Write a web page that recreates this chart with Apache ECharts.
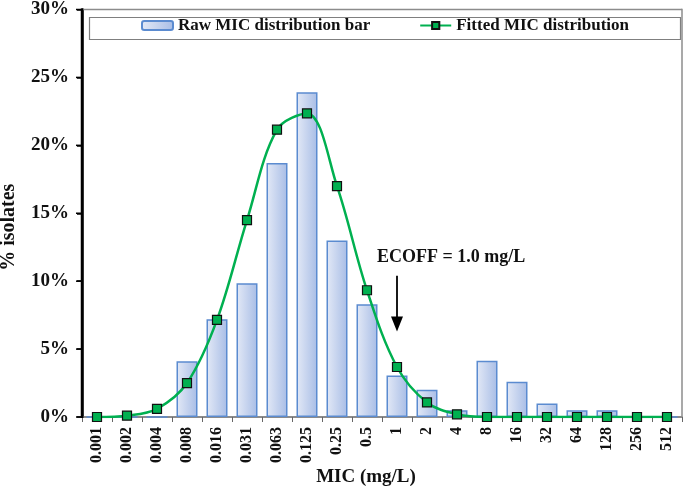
<!DOCTYPE html>
<html>
<head>
<meta charset="utf-8">
<script src="https://cdn.jsdelivr.net/npm/echarts@6/dist/echarts.min.js"></script>
<style>html,body{margin:0;padding:0;background:#fff}#c{width:685px;height:488px}</style>
</head>
<body>
<div id="c"></div>
<script>
const categories = ['0.001','0.002','0.004','0.008','0.016','0.031','0.063','0.125','0.25','0.5','1','2','4','8','16','32','64','128','256','512'];
const rawBar = [0,0,0,4.1,7.2,9.85,18.7,23.9,13.0,8.3,3.05,2.0,0.5,4.15,2.6,1.0,0.5,0.5,0,0];
const fitted = [0,0.1,0.6,2.5,7.15,14.5,21.15,22.35,17.0,9.33,3.68,1.07,0.2,0,0,0,0,0,0,0];
const yMin = 0, yMax = 30, yStep = 5;
const ecoffCategory = '1';
const ecoffLabel = 'ECOFF = 1.0 mg/L';
const arrowTop = 10.4, arrowBottom = 6.3;
const xName = 'MIC (mg/L)', yName = '% isolates';

const FONT = "'Liberation Serif','Times New Roman',serif";
const GL = 82, GR = 3, GT = 7, GB = 71, W = 685, H = 488;
const chart = echarts.init(document.getElementById('c'), null, {renderer:'canvas'});
chart.setOption({
  animation:false,
  grid:{left:GL,right:GR,top:GT,bottom:GB},
  legend:{
    top:17,left:141,
    padding:0,
    itemGap:49,itemWidth:31,itemHeight:9,
    textStyle:{fontFamily:FONT,fontWeight:'bold',fontSize:17,color:'#111'},
    data:['Raw MIC distribution bar','Fitted MIC distribution']
  },
  xAxis:{
    type:'category',data:categories,
    axisLine:{show:true,lineStyle:{color:'#666',width:1.5}},
    axisTick:{show:true,length:5,lineStyle:{color:'#666'}},
    axisLabel:{rotate:90,margin:10,fontFamily:FONT,fontWeight:'bold',fontSize:16,color:'#111'}
  },
  yAxis:{
    type:'value',min:yMin,max:yMax,interval:yStep,
    axisLine:{show:true,lineStyle:{color:'#000',width:2.5}},
    axisTick:{show:true,length:5,lineStyle:{color:'#000',width:1.5}},
    splitLine:{show:false},
    axisLabel:{formatter:'{value}%',margin:13,fontFamily:FONT,fontWeight:'bold',fontSize:19,color:'#111'}
  },
  series:[
    {
      name:'Raw MIC distribution bar',type:'bar',data:rawBar,barWidth:'70%',
      itemStyle:{
        color:new echarts.graphic.LinearGradient(0,0,1,0,[{offset:0,color:'#e3e9f6'},{offset:1,color:'#a8bde6'}]),
        borderColor:'#5b8bd0',borderWidth:1.5
      }
    },
    {
      name:'Fitted MIC distribution',type:'line',data:fitted,smooth:0.35,
      symbol:'rect',symbolSize:9,
      lineStyle:{color:'#00b050',width:2.5},
      itemStyle:{color:'#00b050',borderColor:'#111',borderWidth:1.2},
      z:5
    }
  ]
});
function px(cat, v) {
  const p = chart.convertToPixel({gridIndex:0},[cat, v]);
  return (p && isFinite(p[0]) && isFinite(p[1])) ? p : null;
}
const yPix = v => { const p = px(categories[0], v); return p ? p[1] : (H - GB) - (v - yMin) / (yMax - yMin) * (H - GB - GT); };
const gx0 = GL, gx1 = W - GR;
const gyB = yPix(yMin), gyT = yPix(yMax);
let pA = px(ecoffCategory, arrowTop);
const ax = pA ? pA[0] : gx0 + (categories.indexOf(ecoffCategory) + 0.5) * (gx1 - gx0) / categories.length;
const yA = yPix(arrowTop), yB = yPix(arrowBottom);
const g = [
  {type:'rect',shape:{x:gx0,y:gyT-0.75,width:gx1-gx0,height:1.5},style:{fill:'#8c8c8c'},z:30},
  {type:'rect',shape:{x:gx1-0.75,y:gyT-0.75,width:1.5,height:gyB-gyT+0.75},style:{fill:'#8c8c8c'},z:30},
  {type:'rect',shape:{x:gx0-1.25,y:gyT-1,width:2.5,height:gyB-gyT+2},style:{fill:'#000'},z:30},
  {type:'rect',left:87,top:15,shape:{width:591,height:22},style:{fill:'none',stroke:'#7f7f7f',lineWidth:1.2},z:-1},
  {type:'text',left:ax-20,top:yA-27,style:{text:ecoffLabel,font:"bold 18px "+FONT,fill:'#111'}},
  {type:'line',shape:{x1:ax,y1:yA,x2:ax,y2:yB-14},style:{stroke:'#000',lineWidth:1.8}},
  {type:'polygon',shape:{points:[[ax-6,yB-15],[ax+6,yB-15],[ax,yB]]},style:{fill:'#000'}},
  {type:'text',x:9,y:(gyT+gyB)/2+14,rotation:Math.PI/2,style:{text:yName,font:"bold 20px "+FONT,fill:'#111',align:'center',verticalAlign:'middle'}},
  {type:'text',x:(gx0+gx1)/2-16,y:gyB+60,style:{text:xName,font:"bold 19px "+FONT,fill:'#111',align:'center',verticalAlign:'middle'}}
];
for (let v = yMin; v <= yMax; v += yStep) {
  const y = yPix(v);
  g.push({type:'rect',shape:{x:gx0-6,y:y-0.75,width:6,height:1.5},style:{fill:'#000'},z:30});
}
chart.setOption({graphic:g});
</script>
</body>
</html>
